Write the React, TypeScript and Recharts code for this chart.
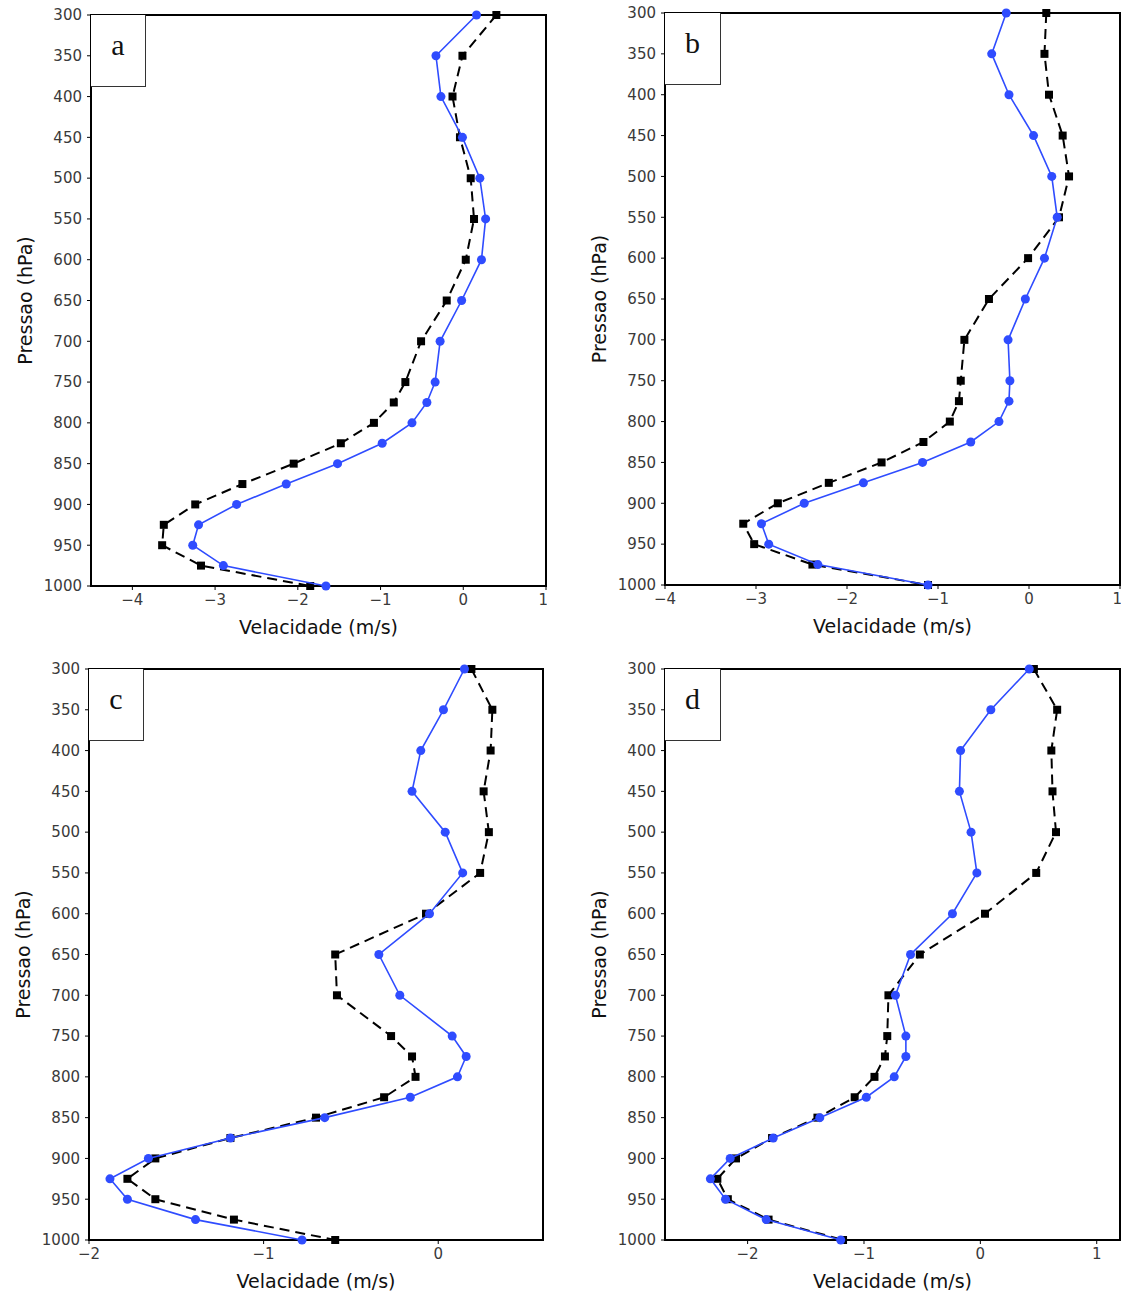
import React from "react";
import {
  ScatterChart,
  Scatter,
  XAxis,
  YAxis,
  ZAxis,
  ReferenceArea,
} from "recharts";

// pressure levels (hPa), top of profile first
const levels = [
  300, 350, 400, 450, 500, 550, 600, 650, 700, 750, 775, 800, 825, 850, 875,
  900, 925, 950, 975, 1000,
];

// panel a
const aBlack = [
  0.4, -0.01, -0.13, -0.04, 0.09, 0.13, 0.03, -0.2, -0.51, -0.7, -0.84, -1.08,
  -1.48, -2.05, -2.67, -3.24, -3.62, -3.64, -3.17, -1.85,
];
const aBlue = [
  0.16, -0.33, -0.27, -0.01, 0.2, 0.27, 0.22, -0.02, -0.28, -0.34, -0.44,
  -0.62, -0.98, -1.52, -2.14, -2.74, -3.2, -3.27, -2.9, -1.66,
];

// panel b
const bBlack = [
  0.19, 0.17, 0.22, 0.37, 0.44, 0.33, -0.01, -0.44, -0.71, -0.75, -0.77,
  -0.87, -1.16, -1.62, -2.2, -2.76, -3.14, -3.02, -2.38, -1.11,
];
const bBlue = [
  -0.25, -0.41, -0.22, 0.05, 0.25, 0.31, 0.17, -0.04, -0.23, -0.21, -0.22,
  -0.33, -0.64, -1.17, -1.82, -2.47, -2.94, -2.86, -2.32, -1.11,
];

// panel c
const cBlack = [
  0.19, 0.31, 0.3, 0.26, 0.29, 0.24, -0.07, -0.59, -0.58, -0.27, -0.15,
  -0.13, -0.31, -0.7, -1.19, -1.62, -1.78, -1.62, -1.17, -0.59,
];
const cBlue = [
  0.15, 0.03, -0.1, -0.15, 0.04, 0.14, -0.05, -0.34, -0.22, 0.08, 0.16, 0.11,
  -0.16, -0.65, -1.19, -1.66, -1.88, -1.78, -1.39, -0.78,
];

// panel d
const dBlack = [
  0.46, 0.66, 0.61, 0.62, 0.65, 0.48, 0.04, -0.52, -0.79, -0.8, -0.82, -0.91,
  -1.08, -1.4, -1.79, -2.1, -2.26, -2.17, -1.82, -1.18,
];
const dBlue = [
  0.42, 0.09, -0.17, -0.18, -0.08, -0.03, -0.24, -0.6, -0.73, -0.64, -0.64,
  -0.74, -0.98, -1.38, -1.78, -2.15, -2.32, -2.19, -1.84, -1.2,
];

const pressureTicks = [
  300, 350, 400, 450, 500, 550, 600, 650, 700, 750, 800, 850, 900, 950, 1000,
];

const BLUE = "#2f4cff";
const AXIS_FONT = "DejaVu Sans";

const toRows = (vals: number[]) => levels.map((p, i) => ({ p, v: vals[i] }));

type PanelProps = {
  letter: string;
  left: number; // plot area left, page px
  top: number; // plot area top, page px
  plotW: number;
  plotH: number;
  xDomain: [number, number];
  xTicks: number[];
  black: number[];
  blue: number[];
  boxW: number;
};

const AXIS_W = 90;
const M_TOP = 10;
const M_RIGHT = 1;
const XAXIS_H = 60;

function Panel(props: PanelProps) {
  const { letter, left, top, plotW, plotH, xDomain, xTicks, black, blue, boxW } =
    props;
  const width = AXIS_W + plotW + M_RIGHT;
  const height = M_TOP + plotH + XAXIS_H;
  const fmt = (v: number) => (v < 0 ? "\u2212" + Math.abs(v) : String(v));

  return (
    <div
      style={{
        position: "absolute",
        left: left - AXIS_W,
        top: top - M_TOP,
        width,
        height,
      }}
    >
      <ScatterChart
        width={width}
        height={height}
        margin={{ top: M_TOP, right: M_RIGHT, left: 0, bottom: 0 }}
      >
        <XAxis
          type="number"
          dataKey="v"
          domain={xDomain}
          ticks={xTicks}
          tickFormatter={fmt}
          allowDataOverflow
          height={XAXIS_H}
          tickSize={4}
          tickMargin={4}
          axisLine={{ stroke: "#000", strokeWidth: 2 }}
          tickLine={{ stroke: "#000" }}
          tick={{ fill: "#3a3a3a", fontSize: 15, fontFamily: AXIS_FONT }}
          label={{
            value: "Velacidade (m/s)",
            position: "insideBottom",
            offset: 12,
            style: { fill: "#111", fontSize: 19, fontFamily: AXIS_FONT },
          }}
        />
        <YAxis
          type="number"
          dataKey="p"
          domain={[300, 1000]}
          ticks={pressureTicks}
          reversed
          width={AXIS_W}
          tickSize={4}
          tickMargin={5}
          axisLine={{ stroke: "#000", strokeWidth: 2 }}
          tickLine={{ stroke: "#000" }}
          tick={{ fill: "#3a3a3a", fontSize: 15, fontFamily: AXIS_FONT }}
          label={{
            value: "Pressao (hPa)",
            angle: -90,
            position: "insideLeft",
            offset: 24,
            style: {
              fill: "#111",
              fontSize: 19,
              fontFamily: AXIS_FONT,
              textAnchor: "middle",
            },
          }}
        />
        <ZAxis zAxisId="sq" range={[64, 64]} />
        <ZAxis zAxisId="ci" range={[42, 42]} />
        <ReferenceArea
          x1={xDomain[0]}
          x2={xDomain[1]}
          y1={300}
          y2={1000}
          fill="none"
          stroke="#000"
          strokeWidth={2}
        />
        <Scatter
          data={toRows(black)}
          zAxisId="sq"
          shape="square"
          fill="#000"
          line={{ stroke: "#000", strokeWidth: 2, strokeDasharray: "10 6" }}
          isAnimationActive={false}
        />
        <Scatter
          data={toRows(blue)}
          zAxisId="ci"
          shape="circle"
          fill={BLUE}
          line={{ stroke: BLUE, strokeWidth: 1.6 }}
          isAnimationActive={false}
        />
      </ScatterChart>
      {/* panel letter in its corner box */}
      <div
        style={{
          position: "absolute",
          left: AXIS_W,
          top: M_TOP,
          width: boxW,
          height: 72,
          boxSizing: "border-box",
          paddingBottom: 12,
          borderRight: "1.5px solid #333",
          borderBottom: "1.5px solid #333",
          display: "flex",
          alignItems: "center",
          justifyContent: "center",
          fontFamily: "Liberation Serif",
          fontSize: 30,
          color: "#111",
          background: "#fff",
        }}
      >
        {letter}
      </div>
    </div>
  );
}

export default function App() {
  return (
    <div
      style={{
        position: "absolute",
        left: 0,
        top: 0,
        width: 1121,
        height: 1295,
        overflow: "hidden",
        background: "#fff",
      }}
    >
      <Panel
        letter="a"
        left={91}
        top={15}
        plotW={455}
        plotH={571}
        xDomain={[-4.5, 1]}
        xTicks={[-4, -3, -2, -1, 0, 1]}
        black={aBlack}
        blue={aBlue}
        boxW={55}
      />
      <Panel
        letter="b"
        left={665}
        top={13}
        plotW={455}
        plotH={572}
        xDomain={[-4, 1]}
        xTicks={[-4, -3, -2, -1, 0, 1]}
        black={bBlack}
        blue={bBlue}
        boxW={56}
      />
      <Panel
        letter="c"
        left={89}
        top={669}
        plotW={454}
        plotH={571}
        xDomain={[-2, 0.6]}
        xTicks={[-2, -1, 0]}
        black={cBlack}
        blue={cBlue}
        boxW={55}
      />
      <Panel
        letter="d"
        left={665}
        top={669}
        plotW={455}
        plotH={571}
        xDomain={[-2.71, 1.2]}
        xTicks={[-2, -1, 0, 1]}
        black={dBlack}
        blue={dBlue}
        boxW={56}
      />
    </div>
  );
}
